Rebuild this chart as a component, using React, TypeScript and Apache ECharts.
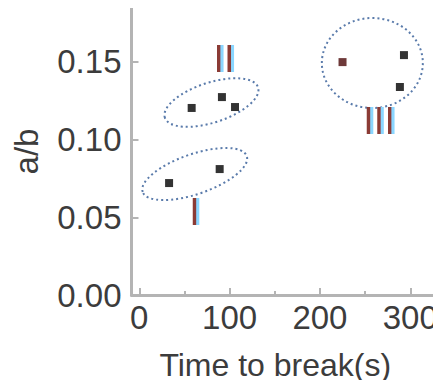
import React, { useEffect, useRef } from "react";
import * as echarts from "echarts";

// Data
const pointTime = [33, 89, 58, 91.5, 106, 225, 293, 288.5];
const pointRatio = [0.072, 0.081, 0.1203, 0.1273, 0.1209, 0.1498, 0.1543, 0.1338];

const groupCenterTime = [61.4, 79.9, 258];
const groupCenterRatio = [0.0778, 0.1238, 0.1492];

const groupLabels = ["I", "II", "III"];
const groupLabelTime = [61.1, 93.9, 265.5];
const groupLabelRatio = [0.0537, 0.1521, 0.1116];

const xTickValues = [0, 100, 200, 300];
const xMinorValues = [50, 150, 250];
const yTickValues = [0, 0.05, 0.1, 0.15];
const yMinorValues = [0.025, 0.075, 0.125, 0.175];

const X_MIN = -8.6;
const X_MAX = 334;
const Y_MIN = 0;
const Y_MAX = 0.1846;

// ellipse geometry (pixels / degrees)
const ellipseGeom = [
  { rx: 55, ry: 20, rot: 19 },
  { rx: 49, ry: 20, rot: 18 },
  { rx: 50.5, ry: 45, rot: 0 },
];

const FONT = "'Liberation Sans', Arial, sans-serif";
const AXIS_GRAY = "#b4b4b4";
const TEXT_COLOR = "#3c3c3c";

export default function App() {
  const ref = useRef<HTMLDivElement>(null);

  useEffect(() => {
    if (!ref.current) return;
    const chart = echarts.init(ref.current, null, { renderer: "svg" });
    const gridLeft = 131.5;
    const gridTop = 8;
    const gridBottom = 93;
    const W = 441;
    const H = 388;
    const gridW = W - gridLeft;
    const gridH = H - gridTop - gridBottom;

    const option: any = {
      animation: false,
      grid: { left: gridLeft, top: gridTop, right: 0, bottom: gridBottom, containLabel: false },
      xAxis: [
        {
          type: "value",
          min: X_MIN,
          max: X_MAX,
          position: "bottom",
          axisLine: { show: true, onZero: false, lineStyle: { color: AXIS_GRAY, width: 3 } },
          axisTick: { show: true, inside: true, length: 7, customValues: xTickValues, lineStyle: { color: AXIS_GRAY, width: 2 } },
          axisLabel: { customValues: xTickValues, fontSize: 33, color: TEXT_COLOR, fontFamily: FONT, margin: 6 },
          splitLine: { show: false },
          name: "Time to break(s)",
          nameLocation: "middle",
          nameGap: 54,
          nameTextStyle: { fontSize: 32, color: TEXT_COLOR, fontFamily: FONT, padding: [0, 22, 0, 0] },
        },
        {
          type: "value",
          min: X_MIN,
          max: X_MAX,
          position: "top",
          offset: -gridH,
          axisLine: { show: false },
          axisTick: { show: true, inside: false, length: 4, customValues: xMinorValues, lineStyle: { color: AXIS_GRAY, width: 2 } },
          axisLabel: { show: false },
          splitLine: { show: false },
        },
      ],
      yAxis: [
        {
          type: "value",
          min: Y_MIN,
          max: Y_MAX,
          position: "left",
          axisLine: { show: true, onZero: false, lineStyle: { color: AXIS_GRAY, width: 3 } },
          axisTick: { show: true, inside: true, length: 7, customValues: yTickValues, lineStyle: { color: AXIS_GRAY, width: 2 } },
          axisLabel: {
            customValues: yTickValues,
            fontSize: 33,
            color: TEXT_COLOR,
            fontFamily: FONT,
            margin: 10,
            padding: [0, 0, 6, 0],
            formatter: (v: number) => v.toFixed(2),
          },
          splitLine: { show: false },
          name: "a/b",
          nameLocation: "middle",
          nameGap: 89,
          nameTextStyle: { fontSize: 33, color: TEXT_COLOR, fontFamily: FONT },
        },
        {
          type: "value",
          min: Y_MIN,
          max: Y_MAX,
          position: "right",
          offset: -gridW,
          axisLine: { show: false },
          axisTick: { show: true, inside: false, length: 4, customValues: yMinorValues, lineStyle: { color: AXIS_GRAY, width: 2 } },
          axisLabel: { show: false },
          splitLine: { show: false },
        },
      ],
      series: [
        {
          type: "custom",
          clip: false,
          z: 2,
          data: groupCenterTime.map((t, i) => [t, groupCenterRatio[i]]),
          renderItem: (params: any, api: any) => {
            const c = api.coord([api.value(0), api.value(1)]);
            const g = ellipseGeom[params.dataIndex];
            return {
              type: "ellipse",
              x: c[0],
              y: c[1],
              rotation: (g.rot * Math.PI) / 180,
              shape: { cx: 0, cy: 0, rx: g.rx, ry: g.ry },
              style: { fill: "none", stroke: "#5a7bab", lineWidth: 2, lineDash: [2, 3] },
            };
          },
        },
        {
          type: "scatter",
          z: 3,
          symbol: "rect",
          symbolSize: 8,
          data: pointTime.map((t, i) => [t, pointRatio[i]]),
          itemStyle: {
            color: (p: any) => (p.dataIndex === 5 ? "#4a0808" : "#000000"),
          },
        },
        {
          type: "custom",
          clip: false,
          z: 4,
          data: groupLabelTime.map((t, i) => [t, groupLabelRatio[i]]),
          renderItem: (params: any, api: any) => {
            const c = api.coord([api.value(0), api.value(1)]);
            return {
              type: "text",
              x: c[0],
              y: c[1],
              style: {
                text: groupLabels[params.dataIndex],
                fill: "#8b3a36",
                font: `38px ${FONT}`,
                textAlign: "center",
                textVerticalAlign: "middle",
                textShadowColor: "#8ad6ff",
                textShadowOffsetX: 3,
                textShadowOffsetY: 0,
                textShadowBlur: 0.01,
              },
            };
          },
        },
      ],
    };
    chart.setOption(option);
    return () => chart.dispose();
  }, []);

  return <div ref={ref} style={{ width: 441, height: 388, margin: -8, overflow: "hidden" }} />;
}
